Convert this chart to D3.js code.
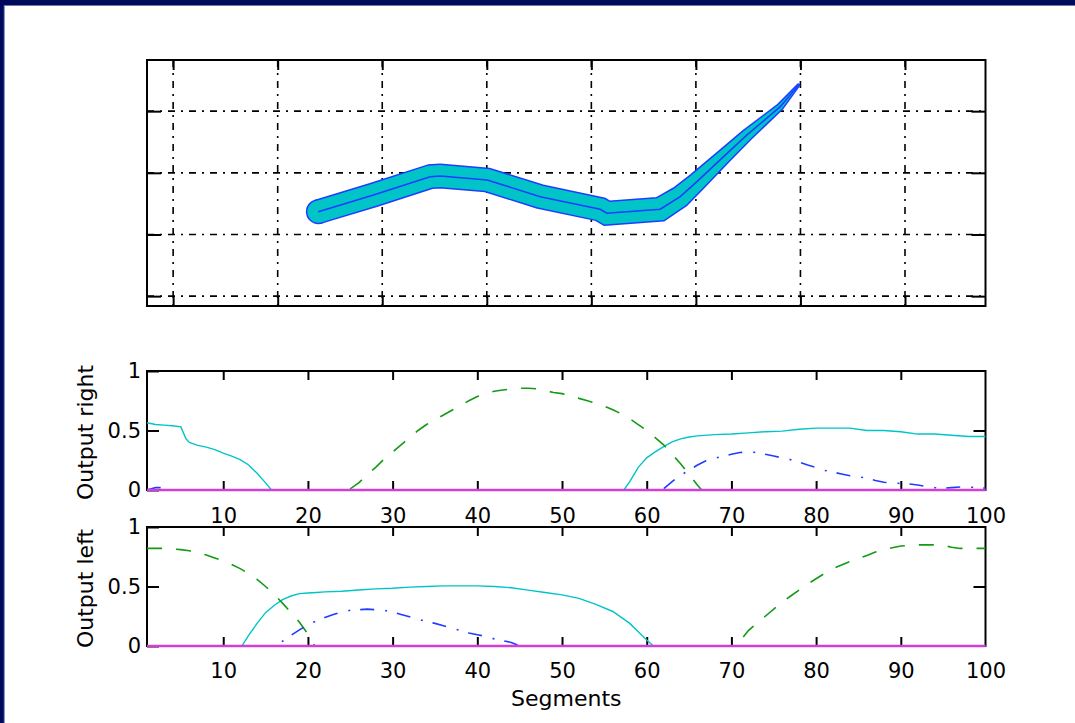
<!DOCTYPE html>
<html>
<head>
<meta charset="utf-8">
<script src="https://cdn.jsdelivr.net/npm/d3@7"></script>
<style>
  html, body { margin: 0; padding: 0; background: #ffffff; }
  svg { display: block; }
  text { font-family: "DejaVu Sans", sans-serif; fill: #000; }
</style>
</head>
<body>
<svg id="chart" width="1075" height="723"></svg>
<script>
// ---------------- DATA ----------------
// top panel: track centre line and half width (data units)
const trackX = [1.389, 1.916, 2.458, 2.554, 3.004, 3.511, 4.085, 4.149, 4.659, 4.850, 5.010, 5.265, 5.489, 5.807, 5.982];
const trackY = [1.370, 1.640, 1.937, 1.949, 1.884, 1.613, 1.409, 1.344, 1.409, 1.613, 1.856, 2.262, 2.614, 3.073, 3.425];
const trackHalfWidth = [0.105, 0.105, 0.105, 0.105, 0.105, 0.105, 0.105, 0.105, 0.105, 0.096, 0.081, 0.062, 0.048, 0.024, 0.004];
const topXTicks = [0, 1, 2, 3, 4, 5, 6, 7];
const topYTicks = [0, 1, 2, 3];

// lower panels
const segTicks = [10, 20, 30, 40, 50, 60, 70, 80, 90, 100];
const outTicks = [0, 0.5, 1];
const outTickLabels = ["0", "0.5", "1"];

const rightCyan = [[1,0.565],[2,0.55],[3,0.545],[4,0.54],[5,0.53],[5.6,0.43],[6,0.4],[7,0.375],[8,0.36],[9,0.34],[10,0.31],[11,0.285],[12,0.255],[13,0.21],[14,0.14],[15,0.06],[15.7,0],[57.3,0],[58,0.07],[59,0.19],[60,0.27],[61,0.32],[62,0.365],[63,0.405],[64,0.43],[65,0.445],[66,0.455],[68,0.465],[70,0.47],[72,0.48],[74,0.49],[76,0.495],[78,0.51],[80,0.52],[82,0.52],[84,0.52],[86,0.5],[88,0.5],[90,0.49],[92,0.47],[94,0.47],[96,0.46],[98,0.45],[100,0.45]];
const rightGreen = [[1,0],[24,0],[25,0.01],[26,0.06],[27,0.13],[28,0.19],[29,0.26],[30,0.32],[31,0.38],[32,0.44],[33,0.5],[34,0.55],[35,0.59],[36,0.63],[37,0.67],[38,0.71],[39,0.75],[40,0.785],[41,0.81],[42,0.83],[43,0.84],[44,0.85],[45,0.855],[46,0.855],[47,0.85],[48,0.835],[49,0.82],[50,0.81],[51,0.79],[52,0.77],[53,0.75],[54,0.73],[55,0.705],[56,0.675],[57,0.64],[58,0.6],[59,0.55],[60,0.5],[61,0.44],[62,0.38],[63,0.3],[64,0.22],[65,0.13],[66,0.04],[66.5,0],[100,0]];
const rightBlue = [[1,0],[2,0.02],[3,0.02],[3.5,0],[61.5,0],[62,0.01],[63,0.07],[64,0.125],[65,0.165],[66,0.21],[67,0.245],[68,0.265],[69,0.285],[70,0.3],[71,0.315],[72,0.32],[73,0.315],[74,0.3],[75,0.285],[76,0.27],[77,0.255],[78,0.235],[79,0.21],[80,0.19],[81,0.165],[82,0.15],[83,0.135],[84,0.12],[85,0.11],[86,0.1],[87,0.08],[88,0.065],[89,0.06],[90,0.055],[91,0.05],[92,0.042],[93,0.03],[94,0.02],[95,0.015],[96,0.02],[97,0.025],[98,0.025],[99,0.02],[100,0.015]];
const rightMagenta = [[1,0],[100,0]];

const leftCyan = [[1,0],[12.2,0],[13,0.09],[14,0.19],[15,0.28],[16,0.34],[17,0.39],[18,0.42],[19,0.44],[20,0.445],[21,0.45],[22,0.455],[24,0.46],[26,0.47],[28,0.48],[30,0.485],[32,0.495],[34,0.5],[36,0.505],[38,0.505],[40,0.505],[42,0.5],[44,0.49],[46,0.47],[48,0.45],[50,0.43],[52,0.4],[54,0.35],[56,0.29],[57,0.24],[58,0.19],[59,0.12],[60,0.05],[60.8,0],[100,0]];
const leftGreen = [[1,0.82],[2,0.82],[3,0.82],[4,0.815],[5,0.81],[6,0.8],[7,0.785],[8,0.765],[9,0.74],[10,0.715],[11,0.685],[12,0.65],[13,0.61],[14,0.56],[15,0.5],[16,0.435],[17,0.36],[18,0.28],[19,0.2],[20,0.1],[20.8,0],[70.5,0],[71,0.04],[72,0.13],[73,0.19],[74,0.25],[75,0.31],[76,0.37],[77,0.42],[78,0.47],[79,0.52],[80,0.565],[81,0.61],[82,0.65],[83,0.68],[84,0.71],[85,0.735],[86,0.76],[87,0.79],[88,0.81],[89,0.825],[90,0.84],[91,0.845],[92,0.85],[93,0.85],[94,0.85],[95,0.845],[96,0.83],[97,0.82],[98,0.82],[99,0.82],[100,0.82]];
const leftBlue = [[1,0],[16,0],[16.5,0.015],[17,0.04],[18,0.09],[19,0.135],[20,0.18],[21,0.21],[22,0.24],[23,0.265],[24,0.285],[25,0.3],[26,0.305],[27,0.31],[28,0.305],[29,0.3],[30,0.285],[31,0.265],[32,0.245],[33,0.225],[34,0.205],[35,0.19],[36,0.17],[37,0.15],[38,0.13],[39,0.11],[40,0.095],[41,0.08],[42,0.06],[43,0.045],[44,0.03],[45,0],[100,0]];
const leftMagenta = [[1,0],[100,0]];

// ---------------- STYLE ----------------
const C_CYAN = "#00c4c8", C_GREEN = "#149a14", C_BLUE = "#1f3cff", C_MAG = "#d23fd6";
const NAVY = "#000a5c";

const svg = d3.select("#chart");

// window frame
svg.append("rect").attr("x", 0).attr("y", 0).attr("width", 1075).attr("height", 6).attr("fill", "#8d93c4");
svg.append("rect").attr("x", 0).attr("y", 0).attr("width", 5).attr("height", 723).attr("fill", "#8d93c4");
svg.append("rect").attr("x", 0).attr("y", 0).attr("width", 1075).attr("height", 5.2).attr("fill", NAVY);
svg.append("rect").attr("x", 0).attr("y", 0).attr("width", 3.8).attr("height", 723).attr("fill", NAVY);

const L = 147, R = 985.5;

// ---------------- TOP PANEL ----------------
(function topPanel() {
  const T = 60, B = 306;
  const x = d3.scaleLinear().domain([-0.25, 7.77]).range([L, R]);
  const y = d3.scaleLinear().domain([-0.16, 3.83]).range([B, T]);
  const g = svg.append("g");

  // grid
  const grid = g.append("g").attr("stroke", "#000").attr("stroke-width", 1.6)
    .attr("stroke-dasharray", "7,6,2,6");
  grid.selectAll("line.vx").data(topXTicks).join("line")
    .attr("x1", d => x(d)).attr("x2", d => x(d)).attr("y1", T).attr("y2", B);
  grid.selectAll("line.hy").data(topYTicks).join("line")
    .attr("class", "hy")
    .attr("y1", d => y(d)).attr("y2", d => y(d)).attr("x1", L).attr("x2", R);

  // band
  const P = trackX.map((v, i) => [x(v), y(trackY[i])]);
  const W = trackHalfWidth.map(w => x(w) - x(0));
  const left = [], right = [];
  const norm = (a, b) => { const dx = b[0]-a[0], dy = b[1]-a[1]; const l = Math.hypot(dx, dy); return [-dy/l, dx/l]; };
  for (let i = 0; i < P.length; i++) {
    let n;
    let len = W[i];
    if (i === 0) n = norm(P[0], P[1]);
    else if (i === P.length - 1) n = norm(P[i-1], P[i]);
    else {
      const n1 = norm(P[i-1], P[i]), n2 = norm(P[i], P[i+1]);
      let m = [n1[0]+n2[0], n1[1]+n2[1]];
      const ml = Math.hypot(m[0], m[1]);
      m = [m[0]/ml, m[1]/ml];
      const c = m[0]*n1[0] + m[1]*n1[1];
      len = Math.min(W[i] / c, 2 * W[i]);
      n = m;
    }
    left.push([P[i][0] + n[0]*len, P[i][1] + n[1]*len]);
    right.push([P[i][0] - n[0]*len, P[i][1] - n[1]*len]);
  }
  const poly = left.concat(right.reverse());
  const lineGen = d3.line();
  const bandG = g.append("g");
  // outline layer
  bandG.append("circle").attr("cx", P[0][0]).attr("cy", P[0][1]).attr("r", W[0])
    .attr("fill", C_BLUE).attr("stroke", C_BLUE).attr("stroke-width", 3);
  bandG.append("path").attr("d", lineGen(poly) + "Z")
    .attr("fill", C_BLUE).attr("stroke", C_BLUE).attr("stroke-width", 3).attr("stroke-linejoin", "round");
  // fill layer
  bandG.append("circle").attr("cx", P[0][0]).attr("cy", P[0][1]).attr("r", W[0])
    .attr("fill", C_CYAN);
  bandG.append("path").attr("d", lineGen(poly) + "Z").attr("fill", C_CYAN);
  // centre line
  g.append("path").attr("d", lineGen(P)).attr("fill", "none")
    .attr("stroke", C_BLUE).attr("stroke-width", 1.6);

  // axes frame and ticks
  g.append("rect").attr("x", L).attr("y", T).attr("width", R - L).attr("height", B - T)
    .attr("fill", "none").attr("stroke", "#000").attr("stroke-width", 2);
  const ax = [
    d3.axisBottom(x).tickValues(topXTicks).tickSizeInner(-10).tickSizeOuter(0).tickFormat(""),
    d3.axisTop(x).tickValues(topXTicks).tickSizeInner(-10).tickSizeOuter(0).tickFormat(""),
    d3.axisLeft(y).tickValues(topYTicks).tickSizeInner(-14).tickSizeOuter(0).tickFormat(""),
    d3.axisRight(y).tickValues(topYTicks).tickSizeInner(-14).tickSizeOuter(0).tickFormat("")
  ];
  const tr = [`translate(0,${B})`, `translate(0,${T})`, `translate(${L},0)`, `translate(${R},0)`];
  ax.forEach((a, i) => {
    const gg = g.append("g").attr("transform", tr[i]).call(a);
    gg.select(".domain").remove();
    gg.selectAll(".tick line").attr("stroke", "#000").attr("stroke-width", 2);
  });
})();

// ---------------- LOWER PANELS ----------------
function outputPanel(T, B, series, ylabel, xPad, showXLabel) {
  const x = d3.scaleLinear().domain([1, 100]).range([L, R]);
  const y = d3.scaleLinear().domain([0, 1]).range([B, T]);
  const g = svg.append("g");
  const clipId = "clip" + T;
  svg.append("clipPath").attr("id", clipId).append("rect")
    .attr("x", L - 1).attr("y", T - 2).attr("width", R - L + 2).attr("height", B - T + 4);

  g.append("rect").attr("x", L).attr("y", T).attr("width", R - L).attr("height", B - T)
    .attr("fill", "none").attr("stroke", "#000").attr("stroke-width", 2);

  const ab = g.append("g").attr("transform", `translate(0,${B})`)
    .call(d3.axisBottom(x).tickValues(segTicks).tickSizeInner(-9).tickSizeOuter(0).tickPadding(xPad));
  const at = g.append("g").attr("transform", `translate(0,${T})`)
    .call(d3.axisTop(x).tickValues(segTicks.slice(0, -1)).tickSizeInner(-9).tickSizeOuter(0).tickFormat(""));
  const al = g.append("g").attr("transform", `translate(${L},0)`)
    .call(d3.axisLeft(y).tickValues(outTicks).tickSizeInner(-12).tickSizeOuter(0).tickPadding(6)
      .tickFormat((d, i) => outTickLabels[i]));
  const ar = g.append("g").attr("transform", `translate(${R},0)`)
    .call(d3.axisRight(y).tickValues([0.5]).tickSizeInner(-12).tickSizeOuter(0).tickFormat(""));
  [ab, at, al, ar].forEach(a => {
    a.select(".domain").remove();
    a.selectAll(".tick line").attr("stroke", "#000").attr("stroke-width", 2);
    a.selectAll(".tick text").style("font-family", '"DejaVu Sans", sans-serif')
      .style("font-size", "21px").attr("fill", "#000");
  });
  ab.selectAll(".tick").filter(d => d === 100).select("line").remove();

  const line = d3.line().x(d => x(d[0])).y(d => y(d[1]));
  const lg = g.append("g").attr("clip-path", `url(#${clipId})`).attr("fill", "none");
  series.forEach(s => {
    lg.append("path").attr("d", line(s.data)).attr("stroke", s.color)
      .attr("stroke-width", s.width).attr("stroke-dasharray", s.dash || null);
  });

  g.append("text").attr("transform", `translate(93,${(T + B) / 2 + 2}) rotate(-90)`)
    .attr("text-anchor", "middle").style("font-size", "22px").text(ylabel);

  if (showXLabel) {
    g.append("text").attr("x", (L + R) / 2).attr("y", 706).attr("text-anchor", "middle")
      .style("font-size", "22px").text("Segments");
  }
}

outputPanel(371, 490, [
  { data: rightCyan, color: C_CYAN, width: 1.4 },
  { data: rightGreen, color: C_GREEN, width: 1.6, dash: "15,14" },
  { data: rightBlue, color: C_BLUE, width: 1.6, dash: "14,11,2,10" },
  { data: rightMagenta, color: C_MAG, width: 2.5 }
], "Output right", 18, false);

outputPanel(527, 646, [
  { data: leftCyan, color: C_CYAN, width: 1.4 },
  { data: leftGreen, color: C_GREEN, width: 1.6, dash: "15,14" },
  { data: leftBlue, color: C_BLUE, width: 1.6, dash: "14,11,2,10" },
  { data: leftMagenta, color: C_MAG, width: 2.5 }
], "Output left", 17, true);
</script>
</body>
</html>
